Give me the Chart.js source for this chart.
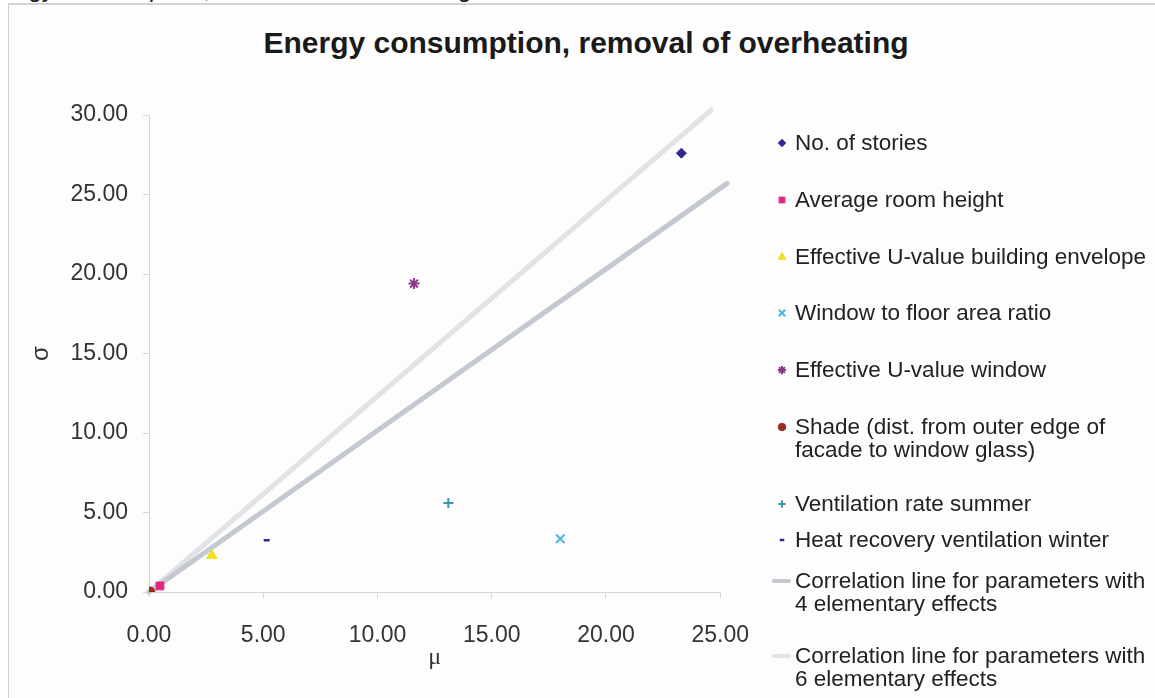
<!DOCTYPE html>
<html lang="en">
<head>
<meta charset="UTF-8">
<title>Energy consumption, removal of overheating</title>
<script src="https://cdn.jsdelivr.net/npm/chart.js"></script>
<style>
  html,body{margin:0;padding:0;width:1155px;height:698px;overflow:hidden;background:#fff;font-family:"Liberation Sans",Arial,sans-serif}
  #caption{position:absolute;left:-23px;top:-24px;font-style:italic;font-size:25px;line-height:25px;color:#222;white-space:nowrap}
  #frame{position:absolute;left:8px;top:3px;width:1160px;height:710px;border-left:1px solid #cfcfcf;border-top:2px solid #d4d4d4;background:#fdfdfd}
  #title{position:absolute;left:0;top:25px;width:1172px;text-align:center;font-weight:bold;font-size:30px;line-height:36px;color:#1a1a1a}
  .chart-box{position:absolute;left:0;top:0;width:773px;height:698px}
  #legend{position:absolute;left:0;top:0}
  .item{position:absolute;left:772px;font-size:22.5px;line-height:23px;color:#222;white-space:nowrap}
  .item canvas{position:absolute;left:0;top:2px}
  .item span{display:block;margin-left:23px}
</style>
</head>
<body>
<div id="caption">Energy consumption, removal of overheating</div>
<div id="frame"></div>
<div id="title">Energy consumption, removal of overheating</div>
<div class="chart-box"><canvas id="chart"></canvas></div>
<div id="legend"></div>

<script>
// ---- data ----
const series = ['No. of stories', 'Average room height', 'Effective U-value building envelope',
  'Window to floor area ratio', 'Effective U-value window',
  'Shade (dist. from outer edge of facade to window glass)', 'Ventilation rate summer',
  'Heat recovery ventilation winter'];
const mu    = [23.3, 0.48, 2.75, 18.0, 11.6, 0.04, 13.1, 5.15];
const sigma = [27.6, 0.38, 2.3, 3.35, 19.4, 0.0, 5.6, 3.25];

const corr4Label = 'Correlation line for parameters with 4 elementary effects';
const corr4Mu    = [0, 25.3];
const corr4Sigma = [0, 25.7];
const corr6Label = 'Correlation line for parameters with 6 elementary effects';
const corr6Mu    = [0, 24.6];
const corr6Sigma = [0, 30.3];

const xTicks = [0, 5, 10, 15, 20, 25];
const yTicks = [0, 5, 10, 15, 20, 25, 30];

// ---- styling ----
const pointStyles = ['rectRot', 'rect', 'triangle', 'crossRot', 'star', 'circle', 'cross', 'line'];
const colors = ['#2f2a8c', '#e0257f', '#f2e01e', '#4bb6de', '#8b3a8e', '#9a2c22', '#3997ad', '#2f2a8c'];
const radii  = [5, 5.5, 6, 6, 5.5, 5, 5, 3];
const widths = [1, 1, 1, 2, 2, 1, 2, 2.5];
const corr4Color = '#c4c8d1';
const corr6Color = '#e1e3e7';
const legendLines = [
  ['No. of stories'], ['Average room height'], ['Effective U-value building envelope'],
  ['Window to floor area ratio'], ['Effective U-value window'],
  ['Shade (dist. from outer edge of', 'facade to window glass)'], ['Ventilation rate summer'],
  ['Heat recovery ventilation winter'],
  ['Correlation line for parameters with', '4 elementary effects'],
  ['Correlation line for parameters with', '6 elementary effects']
];
const legendTops = [131, 188, 245, 301, 358, 415, 492, 528, 569, 644];

const datasets = series.map((name, i) => ({
  label: name,
  data: [{x: mu[i], y: sigma[i]}],
  pointStyle: pointStyles[i],
  pointRadius: radii[i],
  pointBorderWidth: widths[i],
  backgroundColor: colors[i],
  borderColor: colors[i],
  order: 1
}));
datasets.push({
  label: corr4Label, type: 'line', showLine: true, clip: false,
  data: corr4Mu.map((x, i) => ({x, y: corr4Sigma[i]})),
  borderColor: corr4Color, borderWidth: 5, borderCapStyle: 'round', pointRadius: 0, order: 5
});
datasets.push({
  label: corr6Label, type: 'line', showLine: true, clip: false,
  data: corr6Mu.map((x, i) => ({x, y: corr6Sigma[i]})),
  borderColor: corr6Color, borderWidth: 5, borderCapStyle: 'round', pointRadius: 0, order: 6
});

const tickFont = {family: '"Liberation Sans", Arial, sans-serif', size: 23};
const axisGrid = {drawOnChartArea: false, drawTicks: true, tickLength: 6, color: '#d6d6d6'};

const chart = new Chart(document.getElementById('chart'), {
  type: 'scatter',
  data: {datasets},
  options: {
    responsive: true, maintainAspectRatio: false, animation: false,
    layout: {padding: {left: 8, top: 115, right: 30, bottom: 0}},
    plugins: {legend: {display: false}, tooltip: {enabled: false}},
    scales: {
      x: {
        type: 'linear', min: 0, max: 25,
        afterBuildTicks: s => { s.ticks = xTicks.map(v => ({value: v})); },
        afterFit: s => { s.height = 106; },
        ticks: {font: tickFont, color: '#333', padding: 24, maxRotation: 0,
          callback: v => v.toFixed(2)},
        grid: axisGrid,
        border: {display: true, color: '#d6d6d6'},
        title: {display: true, text: 'μ', color: '#333',
          font: {family: '"Liberation Serif", "Times New Roman", serif', size: 24},
          padding: {top: 26, bottom: 26}}
      },
      y: {
        type: 'linear', min: 0, max: 30,
        afterBuildTicks: s => { s.ticks = yTicks.map(v => ({value: v})); },
        afterFit: s => { s.width = 141; },
        ticks: {font: tickFont, color: '#333', padding: 15,
          callback: v => v.toFixed(2)},
        grid: axisGrid,
        border: {display: true, color: '#d6d6d6'},
        title: {display: true, text: 'σ', color: '#333',
          font: {family: '"Liberation Sans", Arial, sans-serif', size: 24},
          padding: {top: 19, bottom: 19}}
      }
    }
  }
});

// ---- legend (html, markers drawn with the library's point helper) ----
const legend = document.getElementById('legend');
const drawMarker = (ctx, i) => {
  if (i >= series.length) {
    ctx.strokeStyle = i === series.length ? corr4Color : corr6Color;
    ctx.lineWidth = 4; ctx.lineCap = 'round';
    ctx.beginPath(); ctx.moveTo(2, 10); ctx.lineTo(17, 10); ctx.stroke();
    return;
  }
  ctx.fillStyle = colors[i]; ctx.strokeStyle = colors[i];
  const opts = {pointStyle: pointStyles[i], radius: radii[i] * 0.75, rotation: 0,
    borderWidth: widths[i]};
  if (Chart.helpers && Chart.helpers.drawPoint) {
    ctx.lineWidth = widths[i];
    Chart.helpers.drawPoint(ctx, opts, 10, 10);
  } else {
    ctx.beginPath(); ctx.arc(10, 10, 3.5, 0, Math.PI * 2); ctx.fill();
  }
};
legendLines.forEach((lines, i) => {
  const div = document.createElement('div');
  div.className = 'item';
  div.style.top = legendTops[i] + 'px';
  const c = document.createElement('canvas');
  c.width = 20; c.height = 20;
  drawMarker(c.getContext('2d'), i);
  div.appendChild(c);
  lines.forEach(t => { const s = document.createElement('span'); s.textContent = t; div.appendChild(s); });
  legend.appendChild(div);
});
</script>
</body>
</html>
